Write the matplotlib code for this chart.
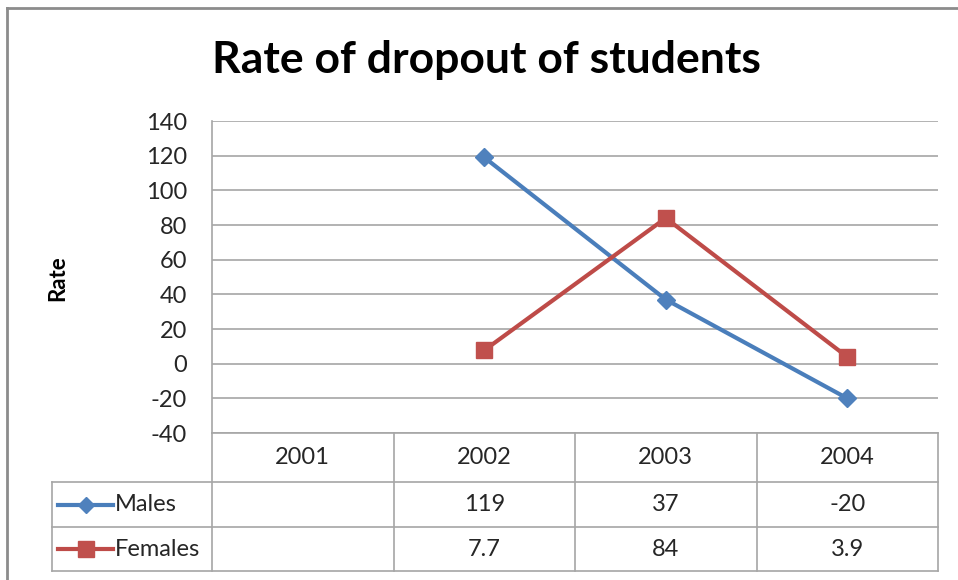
import matplotlib
matplotlib.use('Agg')
import matplotlib.pyplot as plt
from matplotlib.lines import Line2D
import numpy as np

# ---- data ----
years = ['2001', '2002', '2003', '2004']
males = [np.nan, 119, 37, -20]
females = [np.nan, 7.7, 84, 3.9]
males_labels = ['', '119', '37', '-20']
females_labels = ['', '7.7', '84', '3.9']
series_names = ['Males', 'Females']
yticks = [-40, -20, 0, 20, 40, 60, 80, 100, 120, 140]
title = 'Rate of dropout of students'
ylabel = 'Rate'

# ---- style ----
FONT = 'Lato'
plt.rcParams['font.family'] = [FONT, 'DejaVu Sans']
BLUE = '#4A7EBB'
BLUE_M = '#4F81BD'
RED = '#BE4B48'
RED_M = '#C0504D'
GRID = '#A6A6A6'
TXT = '#262626'
FS = 17

W, H = 958, 580
fig = plt.figure(figsize=(W / 100, H / 100), dpi=100)
fig.patch.set_facecolor('white')

def fx(x):
    return x / W

def fy(y):
    return 1 - y / H

# outer frame (left + top visible)
fig.add_artist(Line2D([fx(7), fx(7)], [fy(8), fy(580)], color='#8C8C8C', lw=2))
fig.add_artist(Line2D([fx(7), fx(958)], [fy(8), fy(8)], color='#8C8C8C', lw=2))

# ---- main plot ----
px0, px1, py0, py1 = 212, 938, 121, 433
ax = fig.add_axes([fx(px0), fy(py1), fx(px1) - fx(px0), fy(py0) - fy(py1)])
x = np.arange(len(years))
ax.set_xlim(-0.5, len(years) - 0.5)
ax.set_ylim(yticks[0], yticks[-1])
ax.set_yticks(yticks)
ax.set_yticklabels([str(t) for t in yticks], fontsize=FS, color=TXT)
ax.tick_params(axis='y', length=0, pad=18)
ax.set_xticks([])
ax.grid(axis='y', color=GRID, lw=1.2)
ax.set_axisbelow(True)
for s in ['top', 'right', 'bottom']:
    ax.spines[s].set_visible(False)
ax.spines['left'].set_color(GRID)
ax.spines['left'].set_linewidth(1.2)

ax.plot(x, males, color=BLUE, lw=3, marker='D', markersize=9,
        markerfacecolor=BLUE_M, markeredgecolor=BLUE_M, clip_on=False, zorder=3)
ax.plot(x, females, color=RED, lw=3, marker='s', markersize=12,
        markerfacecolor=RED_M, markeredgecolor=RED_M, clip_on=False, zorder=3)

fig.text(fx(58), fy(278), ylabel, rotation=90, ha='center', va='center',
         fontsize=16, fontweight='bold', color='black')
fig.text(fx(486), fy(60), title, ha='center', va='center',
         fontsize=32, fontweight='bold', color='black')

# ---- data table ----
tx0, ty0, ty1 = 52, 433, 571
colw = (px1 - px0) / len(years)
tax = fig.add_axes([fx(tx0), fy(ty1), fx(px1) - fx(tx0), fy(ty0) - fy(ty1)])
left_lim = -0.5 - (px0 - tx0) / colw
tax.set_xlim(left_lim, len(years) - 0.5)
tax.set_ylim(ty1, ty0)
tax.axis('off')
rows = [433, 482, 527, 571]
lk = dict(color=GRID, lw=1.2, clip_on=False)
tax.plot([-0.5, len(years) - 0.5], [rows[0], rows[0]], **lk)
for r in rows[1:]:
    tax.plot([left_lim, len(years) - 0.5], [r, r], **lk)
for i in range(len(years) + 1):
    tax.plot([i - 0.5, i - 0.5], [rows[0], rows[3]], **lk)
tax.plot([left_lim, left_lim], [rows[1], rows[3]], **lk)

for i, yr in enumerate(years):
    tax.text(i, (rows[0] + rows[1]) / 2, yr, ha='center', va='center', fontsize=FS, color=TXT)
    tax.text(i, (rows[1] + rows[2]) / 2, males_labels[i], ha='center', va='center', fontsize=FS, color=TXT)
    tax.text(i, (rows[2] + rows[3]) / 2, females_labels[i], ha='center', va='center', fontsize=FS, color=TXT)

# legend keys in table
def kx(p):
    return left_lim + (p - tx0) / colw

for name, ymid, col, mc, mk, ms in [
        (series_names[0], (rows[1] + rows[2]) / 2, BLUE, BLUE_M, 'D', 8),
        (series_names[1], (rows[2] + rows[3]) / 2, RED, RED_M, 's', 11)]:
    tax.plot([kx(58), kx(113)], [ymid, ymid], color=col, lw=3, clip_on=False)
    tax.plot([kx(86)], [ymid], marker=mk, markersize=ms, color=mc, clip_on=False)
    tax.text(kx(115), ymid, name, ha='left', va='center', fontsize=FS, color=TXT)

fig.savefig('out.png', dpi=100)
